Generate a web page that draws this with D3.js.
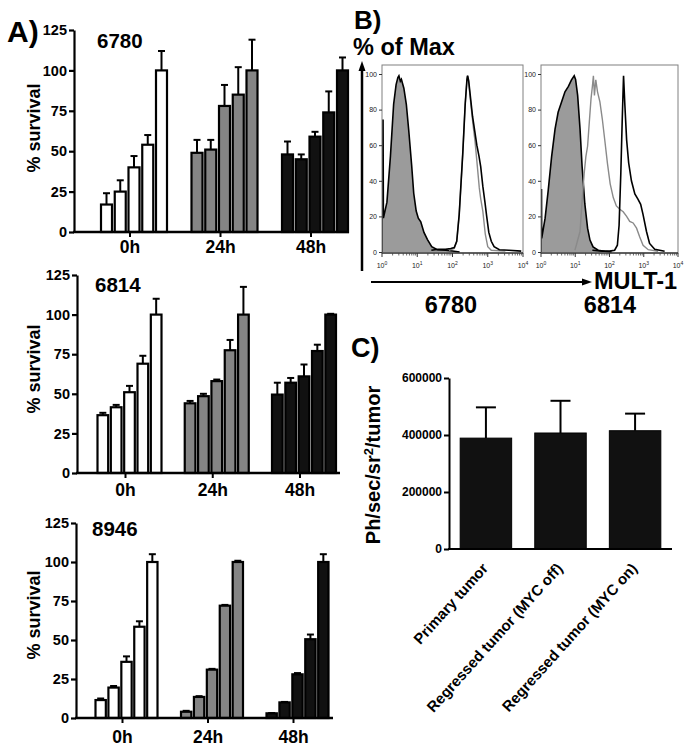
<!DOCTYPE html>
<html>
<head>
<meta charset="utf-8">
<script src="https://cdn.jsdelivr.net/npm/d3@7"></script>
<style>
  body { margin: 0; background: #fff; }
  text { font-family: "Liberation Sans", Arial, Helvetica, sans-serif; }
</style>
</head>
<body>
<script>
// ---------------- DATA ----------------
// Panel A: % survival
const timeGroups = ["0h", "24h", "48h"];
const survivalTicks = [0, 25, 50, 75, 100, 125];
const groupFills = ["#ffffff", "#858585", "#111111"];

const surv6780 = [[17, 25, 40, 54, 100], [49, 51, 78, 85, 100], [48, 45, 59, 74, 100]];
const err6780  = [[24, 32, 47, 60, 112], [57, 57, 91, 102, 119], [56, 48, 62, 87, 108]];
const surv6814 = [[36.5, 41.5, 51, 69, 100], [44, 48.5, 58, 77.5, 100], [49.5, 57, 61, 77, 100]];
const err6814  = [[38, 43, 55, 74, 110], [45.5, 50, 59, 84, 117.5], [57, 60, 68.5, 81, 100.5]];
const surv8946 = [[11.5, 19.5, 36, 58.5, 100], [4, 13.5, 31, 72, 100], [3, 10, 28, 50.5, 100]];
const err8946  = [[12.5, 20.5, 39.5, 62, 105], [4.6, 14, 31.5, 72.5, 100.8], [3.2, 10.3, 28.8, 53.5, 105]];

// Panel B: flow histograms, [log10(MULT-1), % of max]
const flowYTicks = [0, 20, 40, 60, 80, 100];
const flowXTicks = [0, 1, 2, 3, 4];
const iso6780 = [[0, 0], [0, 74], [0.03, 74], [0.04, 19], [0.14, 28], [0.24, 54], [0.33, 83], [0.40, 94], [0.45, 98],
  [0.48, 99], [0.52, 96], [0.55, 97], [0.62, 92], [0.69, 83], [0.76, 68], [0.84, 49], [0.90, 33], [0.97, 23],
  [1.03, 19], [1.10, 17], [1.19, 11], [1.29, 7], [1.41, 3], [1.57, 1.3], [1.81, 1], [2.0, 0.6], [2.2, 0]];
const black6780 = [[1.40, 1], [1.6, 1.5], [1.8, 1.5], [1.95, 2], [2.05, 2.5], [2.12, 6], [2.19, 21], [2.29, 55],
  [2.36, 83], [2.41, 97], [2.43, 99], [2.46, 96], [2.52, 85], [2.57, 76], [2.63, 68], [2.69, 60], [2.75, 54],
  [2.80, 48], [2.86, 37], [2.92, 28], [2.97, 20], [3.03, 11], [3.10, 6], [3.18, 3], [3.33, 1.3], [3.6, 1], [3.95, 0.5]];
const gray6780 = [[1.9, 1], [2.05, 2], [2.12, 6], [2.19, 21], [2.29, 55], [2.36, 83], [2.42, 99], [2.45, 97],
  [2.52, 83], [2.58, 72], [2.64, 62], [2.71, 47], [2.76, 36], [2.80, 30], [2.86, 23], [2.93, 10], [3.0, 3],
  [3.1, 1], [3.5, 0.5]];
const iso6814 = [[0, 0], [0, 35], [0.015, 35], [0.02, 7.7], [0.12, 19], [0.21, 34.5], [0.31, 53.6], [0.41, 69],
  [0.50, 78.5], [0.60, 84.3], [0.70, 90], [0.80, 93], [0.89, 96.7], [0.97, 99], [1.01, 97], [1.07, 88],
  [1.14, 69], [1.20, 48], [1.28, 27], [1.36, 13.4], [1.43, 6.7], [1.52, 2.9], [1.67, 1], [1.86, 0.4], [2.06, 0]];
const black6814 = [[1.5, 1], [1.8, 0.5], [2.0, 0.5], [2.15, 1], [2.23, 3.8], [2.28, 15], [2.33, 44], [2.37, 73],
  [2.41, 99], [2.45, 82], [2.50, 63], [2.56, 50], [2.64, 40], [2.74, 32.6], [2.83, 29.7], [2.91, 26.8],
  [2.98, 21], [3.08, 11.5], [3.17, 4.8], [3.32, 1.5], [3.61, 0.4]];
const gray6814 = [[0.99, 1], [1.14, 11.5], [1.20, 28.7], [1.26, 44], [1.31, 53.6], [1.36, 59.4], [1.41, 72.8],
  [1.46, 86], [1.50, 93], [1.53, 99], [1.56, 88], [1.60, 96.7], [1.65, 90], [1.72, 84.3], [1.79, 74.7],
  [1.86, 63.2], [1.94, 49.8], [2.02, 38.3], [2.11, 30.6], [2.20, 25.9], [2.30, 24], [2.40, 22.6], [2.50, 20],
  [2.59, 17.2], [2.69, 16.3], [2.79, 13.4], [2.88, 8.6], [2.98, 3.8], [3.13, 1.3], [3.42, 0.4]];

// Panel C
const tumorCats = ["Primary tumor", "Regressed tumor (MYC off)", "Regressed tumor (MYC on)"];
const tumorValues = [389000, 407000, 415000];
const tumorErrors = [497000, 520000, 475000];
const tumorTicks = [0, 200000, 400000, 600000];

// ---------------- DRAW ----------------
const svg = d3.select("body").append("svg").attr("width", 690).attr("height", 752);
const FONT = '"Liberation Sans", Arial, Helvetica, sans-serif';

function styleAxis(a, fs, sw) {
  a.selectAll("path.domain").attr("stroke", "#000").attr("stroke-width", sw);
  a.selectAll(".tick line").attr("stroke", "#000").attr("stroke-width", sw);
  a.selectAll(".tick text").attr("font-family", FONT).attr("font-weight", "bold").attr("font-size", fs).attr("fill", "#000");
}

function drawSurvival(cfg, vals, errs, name) {
  const g = svg.append("g");
  const y = d3.scaleLinear().domain([0, 125]).range([cfg.y0, cfg.yTop]);
  const gx = d3.scalePoint().domain(timeGroups).range([cfg.c0, cfg.c2]);
  const inner = d3.scaleBand().domain(d3.range(5)).range([-cfg.half, cfg.half]).paddingInner(0.2);
  timeGroups.forEach((grp, gi) => {
    vals[gi].forEach((v, i) => {
      const xb = gx(grp) + inner(i);
      const cx = xb + inner.bandwidth() / 2;
      const e = errs[gi][i];
      g.append("line").attr("x1", cx).attr("x2", cx).attr("y1", y(v)).attr("y2", y(e))
        .attr("stroke", "#000").attr("stroke-width", 2);
      g.append("line").attr("x1", cx - 3.5).attr("x2", cx + 3.5).attr("y1", y(e)).attr("y2", y(e))
        .attr("stroke", "#000").attr("stroke-width", 2);
      g.append("rect").attr("x", xb).attr("y", y(v)).attr("width", inner.bandwidth())
        .attr("height", cfg.y0 - y(v)).attr("fill", groupFills[gi]).attr("stroke", "#000").attr("stroke-width", 2.2);
    });
  });
  const ya = g.append("g").attr("transform", `translate(${cfg.x0},0)`)
    .call(d3.axisLeft(y).tickValues(survivalTicks).tickSize(5).tickSizeOuter(0).tickPadding(2));
  styleAxis(ya, 14.5, 2.2);
  // x axis
  g.append("line").attr("x1", cfg.x0 - 1).attr("x2", cfg.xEnd).attr("y1", cfg.y0).attr("y2", cfg.y0)
    .attr("stroke", "#000").attr("stroke-width", 2.5);
  timeGroups.forEach(grp => {
    g.append("line").attr("x1", gx(grp) - 4).attr("x2", gx(grp) - 4).attr("y1", cfg.y0).attr("y2", cfg.y0 + 5)
      .attr("stroke", "#000").attr("stroke-width", 2);
    g.append("text").attr("x", gx(grp) - 4).attr("y", cfg.labelY).attr("text-anchor", "middle")
      .attr("font-weight", "bold").attr("font-size", 17.5).text(grp);
  });
  g.append("text").attr("transform", `translate(40,${cfg.ylabC}) rotate(-90)`).attr("text-anchor", "middle")
    .attr("font-weight", "bold").attr("font-size", 18).text("% survival");
  g.append("text").attr("x", cfg.nameX).attr("y", cfg.nameY).attr("font-weight", "bold").attr("font-size", 20.5).text(name);
}

drawSurvival({ x0: 74, xEnd: 349, y0: 232, yTop: 30, c0: 134, c2: 315, half: 33, labelY: 253, ylabC: 128, nameX: 97, nameY: 48 },
  surv6780, err6780, "6780");
drawSurvival({ x0: 77, xEnd: 340, y0: 473, yTop: 275, c0: 129.5, c2: 304, half: 32, labelY: 496, ylabC: 369, nameX: 95, nameY: 292 },
  surv6814, err6814, "6814");
drawSurvival({ x0: 76, xEnd: 333, y0: 718, yTop: 523, c0: 126.5, c2: 297.5, half: 31, labelY: 743, ylabC: 615, nameX: 92, nameY: 536 },
  surv8946, err8946, "8946");

svg.append("text").attr("x", 7).attr("y", 42).attr("font-weight", "bold").attr("font-size", 30).text("A)");

// ---------- Panel B ----------
svg.append("text").attr("x", 354).attr("y", 29).attr("font-weight", "bold").attr("font-size", 26).text("B)");
svg.append("text").attr("x", 353).attr("y", 55).attr("font-weight", "bold").attr("font-size", 23.5).text("% of Max");

const defs = svg.append("defs");
function drawFlow(cfg, iso, blk, gry, id) {
  const g = svg.append("g");
  const x = d3.scaleLinear().domain([0, 4]).range([cfg.x0, cfg.x1]);
  const y = d3.scaleLinear().domain([0, 100]).range([252, 74]);
  defs.append("clipPath").attr("id", id).append("rect")
    .attr("x", cfg.x0).attr("y", 65).attr("width", cfg.x1 - cfg.x0).attr("height", 188);
  const pg = g.append("g").attr("clip-path", `url(#${id})`);
  const area = d3.area().x(d => x(d[0])).y0(y(0)).y1(d => y(d[1]));
  const line = d3.line().x(d => x(d[0])).y(d => y(d[1]));
  pg.append("path").attr("d", area(iso)).attr("fill", "#9b9b9b");
  pg.append("path").attr("d", line(iso)).attr("fill", "none").attr("stroke", "#000").attr("stroke-width", 1.6);
  pg.append("path").attr("d", line(gry)).attr("fill", "none").attr("stroke", "#8a8a8a").attr("stroke-width", 1.4);
  pg.append("path").attr("d", line(blk)).attr("fill", "none").attr("stroke", "#000").attr("stroke-width", 1.6);
  g.append("rect").attr("x", cfg.x0).attr("y", 65).attr("width", cfg.x1 - cfg.x0).attr("height", 188)
    .attr("fill", "none").attr("stroke", "#808080").attr("stroke-width", 1);
  const ya = g.append("g").attr("transform", `translate(${cfg.x0},0)`)
    .call(d3.axisLeft(y).tickValues(flowYTicks).tickSize(3).tickSizeOuter(0).tickPadding(2));
  ya.select("path.domain").remove();
  ya.selectAll(".tick line").attr("stroke", "#333");
  ya.selectAll(".tick text").attr("font-family", FONT).attr("font-size", 7).attr("fill", "#222");
  // x axis ticks (log)
  g.append("line").attr("x1", cfg.x0).attr("x2", cfg.x1).attr("y1", 253).attr("y2", 253).attr("stroke", "#000").attr("stroke-width", 1);
  flowXTicks.forEach(t => {
    g.append("line").attr("x1", x(t)).attr("x2", x(t)).attr("y1", 253).attr("y2", 257).attr("stroke", "#333");
    const tx = g.append("text").attr("x", x(t)).attr("y", 268).attr("text-anchor", "middle")
      .attr("font-size", 7).attr("fill", "#222");
    tx.append("tspan").text("10");
    tx.append("tspan").attr("dy", -3).attr("font-size", 5).text(t);
  });
  flowXTicks.slice(0, -1).forEach(t => {
    d3.range(2, 10).forEach(k => {
      const v = t + Math.log10(k);
      g.append("line").attr("x1", x(v)).attr("x2", x(v)).attr("y1", 253).attr("y2", 255.5).attr("stroke", "#444").attr("stroke-width", 0.8);
    });
  });
}
drawFlow({ x0: 382, x1: 523 }, iso6780, black6780, gray6780, "clipA");
drawFlow({ x0: 541, x1: 678 }, iso6814, black6814, gray6814, "clipB");

// axis arrows
svg.append("line").attr("x1", 362).attr("x2", 362).attr("y1", 271).attr("y2", 69).attr("stroke", "#000").attr("stroke-width", 2.5);
svg.append("path").attr("d", "M362,61 L358.5,71 L365.5,71 Z").attr("fill", "#000");
svg.append("line").attr("x1", 371).attr("x2", 583).attr("y1", 282).attr("y2", 282).attr("stroke", "#000").attr("stroke-width", 2);
svg.append("path").attr("d", "M592,282 L582,278.5 L582,285.5 Z").attr("fill", "#000");
svg.append("text").attr("x", 594).attr("y", 289).attr("font-weight", "bold").attr("font-size", 23.5).text("MULT-1");
svg.append("text").attr("x", 451).attr("y", 313).attr("text-anchor", "middle").attr("font-weight", "bold").attr("font-size", 23.5).text("6780");
svg.append("text").attr("x", 610).attr("y", 313).attr("text-anchor", "middle").attr("font-weight", "bold").attr("font-size", 23.5).text("6814");

// ---------- Panel C ----------
svg.append("text").attr("x", 351).attr("y", 357).attr("font-weight", "bold").attr("font-size", 27).text("C)");
{
  const g = svg.append("g");
  const y = d3.scaleLinear().domain([0, 600000]).range([549, 378]);
  const x = d3.scaleBand().domain(tumorCats).range([449, 672]).paddingInner(0.31).paddingOuter(0.15);
  tumorCats.forEach((c, i) => {
    const cx = x(c) + x.bandwidth() / 2;
    g.append("line").attr("x1", cx).attr("x2", cx).attr("y1", y(tumorValues[i])).attr("y2", y(tumorErrors[i]))
      .attr("stroke", "#000").attr("stroke-width", 2);
    g.append("line").attr("x1", cx - 10).attr("x2", cx + 10).attr("y1", y(tumorErrors[i])).attr("y2", y(tumorErrors[i]))
      .attr("stroke", "#000").attr("stroke-width", 2);
    g.append("rect").attr("x", x(c)).attr("y", y(tumorValues[i])).attr("width", x.bandwidth())
      .attr("height", 549 - y(tumorValues[i])).attr("fill", "#111").attr("stroke", "#000").attr("stroke-width", 1);
    g.append("text").attr("transform", `translate(${cx + 3},569) rotate(-48)`).attr("text-anchor", "end")
      .attr("font-weight", "bold").attr("font-size", 15).text(c);
  });
  const ya = g.append("g").attr("transform", "translate(449,0)")
    .call(d3.axisLeft(y).tickValues(tumorTicks).tickSize(5).tickSizeOuter(0).tickPadding(2).tickFormat(d3.format("d")));
  styleAxis(ya, 12, 2);
  g.append("line").attr("x1", 448).attr("x2", 672).attr("y1", 549).attr("y2", 549).attr("stroke", "#000").attr("stroke-width", 2);
  const yl = g.append("text").attr("transform", "translate(380,465) rotate(-90)").attr("text-anchor", "middle")
    .attr("font-weight", "bold").attr("font-size", 20);
  yl.append("tspan").text("Ph/sec/sr");
  yl.append("tspan").attr("dy", -7).attr("font-size", 13).text("2");
  yl.append("tspan").attr("dy", 7).text("/tumor");
}
</script>
</body>
</html>
